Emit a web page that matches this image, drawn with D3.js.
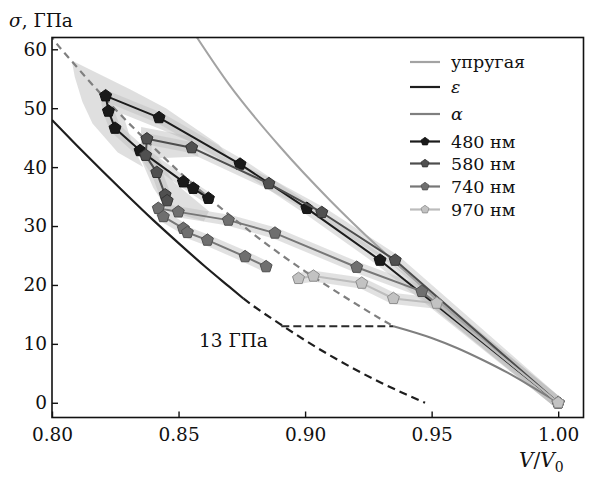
<!DOCTYPE html>
<html>
<head>
<meta charset="utf-8">
<script src="https://cdn.jsdelivr.net/npm/d3@7"></script>
<style>
  body { margin: 0; background: #fff; }
  svg { display: block; }
</style>
</head>
<body>
<svg id="chart" width="593" height="480"></svg>
<script>
// ---- data: [V/V0, sigma (GPa)] ----
const elastic = [[1.0,0],[0.97,10.8],[0.95,18.3],[0.93,26.0],[0.91,34.3],[0.89,43.5],[0.87,54.0],[0.855,63.5]];
const epsSolid = [[0.80,48.0],[0.81,43.6],[0.82,39.3],[0.83,35.1],[0.84,31.0],[0.85,27.1],[0.86,23.3],[0.87,19.7],[0.8756,17.7]];
const epsDashed = [[0.8756,17.7],[0.88,16.3],[0.89,13.4],[0.90,10.6],[0.91,8.0],[0.92,5.6],[0.93,3.4],[0.94,1.4],[0.9474,0.0]];
const alphaSolid = [[1.0,0],[0.99,2.6],[0.98,5.1],[0.97,7.3],[0.96,9.3],[0.95,11.0],[0.9349,13.0]];
const alphaDashed = [[0.9349,13.0],[0.93,14.2],[0.92,16.8],[0.91,19.5],[0.90,22.3],[0.89,25.3],[0.88,28.5],[0.87,31.9],[0.86,35.5],[0.85,39.3],[0.84,43.4],[0.83,47.6],[0.82,52.1],[0.81,56.9],[0.80,62.0],[0.799,62.6]];
const level13 = [[0.8906,13],[0.9349,13]];

const s480 = [[1.0,0],[0.9296,24.2],[0.9007,33.0],[0.8743,40.5],[0.8423,48.4],[0.8212,52.1],[0.8223,49.5],[0.8249,46.6],[0.8348,42.8],[0.8519,37.5],[0.8558,36.4],[0.8618,34.7]];
const s580 = [[1.0,0],[0.9356,24.2],[0.9066,32.3],[0.8857,37.2],[0.8552,43.3],[0.8375,44.8],[0.8370,42.0],[0.8414,39.1],[0.8447,35.3],[0.8455,34.3]];
const s740 = [[1.0,0],[0.9461,18.9],[0.9204,23.0],[0.8881,28.8],[0.8697,31.0],[0.8499,32.4],[0.8420,33.0],[0.8440,31.6],[0.8519,29.6],[0.8535,28.9],[0.8614,27.6],[0.8763,24.8],[0.8846,23.1]];
const s970 = [[1.0,0],[0.952,16.9],[0.9349,17.7],[0.9224,20.3],[0.9033,21.5],[0.8974,21.1]];

// uncertainty haze around the upper-left turning region
const haze480 = [[0.8078,58.1],[0.8308,53.2],[0.845,50.0],[0.866,43.8],[0.87,41.5],[0.842,46.6],[0.828,49.0],[0.832,43.5],[0.836,40.0],[0.826,42.5],[0.816,47.4],[0.812,51.1],[0.809,55.3]];
const haze580 = [[0.8352,46.8],[0.855,45.2],[0.858,41.8],[0.842,41.5],[0.848,37.5],[0.862,32.5],[0.86,30.8],[0.846,32.5],[0.84,36.5],[0.835,41.5]];

const xTicks = [0.80, 0.85, 0.90, 0.95, 1.00];
const yTicks = [0, 10, 20, 30, 40, 50, 60];
const seriesNames = ["480 нм", "580 нм", "740 нм", "970 нм"];
const lineNames = ["упругая", "ε", "α"];

// ---- layout ----
const FONT = "'DejaVu Serif'";
const FS = 18.5;
const svg = d3.select("#chart");
const L = 52, R = 583.5, T = 37.5, B = 417.5;
const x = d3.scaleLinear().domain([0.80, 1.01]).range([L, R]);
const y = d3.scaleLinear().domain([-2.5, 62]).range([B, T]);

svg.append("defs").append("clipPath").attr("id", "plotclip")
  .append("rect").attr("x", L).attr("y", T).attr("width", R - L).attr("height", B - T);

const plot = svg.append("g").attr("clip-path", "url(#plotclip)");
const line = d3.line().x(d => x(d[0])).y(d => y(d[1]));
const smooth = d3.line().x(d => x(d[0])).y(d => y(d[1])).curve(d3.curveMonotoneX);

const colors = { "480 нм": "#1c1c1c", "580 нм": "#4d4d4d", "740 нм": "#777777", "970 нм": "#bcbcbc" };
const fills  = { "480 нм": "#1a1a1a", "580 нм": "#505050", "740 нм": "#6f6f6f", "970 нм": "#c2c2c2" };
const strokes = { "480 нм": "#111", "580 нм": "#333", "740 нм": "#505050", "970 нм": "#8c8c8c" };
const data = { "480 нм": s480, "580 нм": s580, "740 нм": s740, "970 нм": s970 };

// shaded error bands
[haze480, haze580].forEach(h => {
  plot.append("path").attr("d", line(h) + "Z")
    .attr("fill", "#b8b8b8").attr("opacity", 0.45).attr("stroke", "none");
});
seriesNames.forEach(n => {
  plot.append("path").attr("d", line(data[n]))
    .attr("fill", "none").attr("stroke", "#bdbdbd").attr("stroke-opacity", 0.45)
    .attr("stroke-width", 11).attr("stroke-linejoin", "round").attr("stroke-linecap", "round");
});

// model curves
plot.append("path").attr("d", smooth(elastic)).attr("fill", "none").attr("stroke", "#a3a3a3").attr("stroke-width", 2);
plot.append("path").attr("d", smooth(epsSolid)).attr("fill", "none").attr("stroke", "#1e1e1e").attr("stroke-width", 2.2);
plot.append("path").attr("d", smooth(epsDashed)).attr("fill", "none").attr("stroke", "#1e1e1e").attr("stroke-width", 2.2).attr("stroke-dasharray", "8,5");
plot.append("path").attr("d", smooth(alphaSolid)).attr("fill", "none").attr("stroke", "#7f7f7f").attr("stroke-width", 2);
plot.append("path").attr("d", smooth(alphaDashed.slice().reverse())).attr("fill", "none").attr("stroke", "#7f7f7f").attr("stroke-width", 2.2).attr("stroke-dasharray", "7,5");
plot.append("path").attr("d", line(level13)).attr("fill", "none").attr("stroke", "#2a2a2a").attr("stroke-width", 2).attr("stroke-dasharray", "8,4");

// pentagon marker path centred at 0,0
function pentagon(r) {
  const pts = d3.range(5).map(i => {
    const a = -Math.PI / 2 + i * 2 * Math.PI / 5;
    return [r * Math.cos(a), r * Math.sin(a)];
  });
  return "M" + pts.map(p => p[0].toFixed(2) + "," + p[1].toFixed(2)).join("L") + "Z";
}

// measured series
seriesNames.forEach(n => {
  const g = plot.append("g");
  g.append("path").attr("d", line(data[n])).attr("fill", "none")
    .attr("stroke", colors[n]).attr("stroke-width", 2).attr("stroke-linejoin", "round");
  g.selectAll("path.m").data(data[n]).join("path").attr("class", "m")
    .attr("transform", d => `translate(${x(d[0])},${y(d[1])})`)
    .attr("d", pentagon(6.3))
    .attr("fill", fills[n]).attr("stroke", strokes[n]).attr("stroke-width", 1);
});

// frame
svg.append("rect").attr("x", L).attr("y", T).attr("width", R - L).attr("height", B - T)
  .attr("fill", "none").attr("stroke", "#111").attr("stroke-width", 1.6);

// axes (ticks point inward)
const xAxis = svg.append("g").attr("transform", `translate(0,${B})`)
  .call(d3.axisBottom(x).tickValues(xTicks).tickFormat(d3.format(".2f")).tickSizeInner(-6).tickSizeOuter(0).tickPadding(10));
const yAxis = svg.append("g").attr("transform", `translate(${L},0)`)
  .call(d3.axisLeft(y).tickValues(yTicks).tickSizeInner(-6).tickSizeOuter(0).tickPadding(5));
[xAxis, yAxis].forEach(a => {
  a.select(".domain").remove();
  a.attr("font-family", null).attr("font-size", null);
  a.selectAll(".tick line").attr("stroke", "#111").attr("stroke-width", 1.4);
  a.selectAll(".tick text").style("font-size", FS + "px").style("font-family", FONT).attr("fill", "#111");
});

// axis titles
const yt = svg.append("text").attr("x", 9).attr("y", 27).style("font-size", FS + "px").style("font-family", FONT).attr("fill", "#111");
yt.append("tspan").attr("font-style", "italic").text("σ");
yt.append("tspan").text(", ГПа");

const xt = svg.append("text").attr("x", 519).attr("y", 467).style("font-size", "20px").style("font-family", FONT).attr("fill", "#111");
xt.append("tspan").attr("font-style", "italic").text("V");
xt.append("tspan").text("/");
xt.append("tspan").attr("font-style", "italic").text("V");
xt.append("tspan").style("font-size", "14px").attr("dy", 5).text("0");

svg.append("text").attr("x", 199).attr("y", 347).style("font-size", FS + "px").style("font-family", FONT).attr("fill", "#111").text("13 ГПа");

// legend
const LFS = 17.5;
const lg = svg.append("g");
const legendRows = [
  { label: lineNames[0], color: "#a3a3a3", y: 62, italic: false },
  { label: lineNames[1], color: "#1e1e1e", y: 87, italic: true },
  { label: lineNames[2], color: "#7f7f7f", y: 114, italic: true },
  { label: seriesNames[0], color: colors[seriesNames[0]], y: 141.5, marker: seriesNames[0] },
  { label: seriesNames[1], color: colors[seriesNames[1]], y: 163.5, marker: seriesNames[1] },
  { label: seriesNames[2], color: colors[seriesNames[2]], y: 186.5, marker: seriesNames[2] },
  { label: seriesNames[3], color: colors[seriesNames[3]], y: 209.5, marker: seriesNames[3] }
];
legendRows.forEach(r => {
  lg.append("line").attr("x1", 410).attr("x2", 440).attr("y1", r.y).attr("y2", r.y)
    .attr("stroke", r.color).attr("stroke-width", 2.2);
  if (r.marker) {
    lg.append("path").attr("transform", `translate(425,${r.y})`).attr("d", pentagon(4.2))
      .attr("fill", fills[r.marker]).attr("stroke", strokes[r.marker]).attr("stroke-width", 0.8);
  }
  lg.append("text").attr("x", 451).attr("y", r.y + 6).style("font-size", LFS + "px").style("font-family", FONT)
    .attr("fill", "#111").attr("font-style", r.italic ? "italic" : "normal").text(r.label);
});
</script>
</body>
</html>
